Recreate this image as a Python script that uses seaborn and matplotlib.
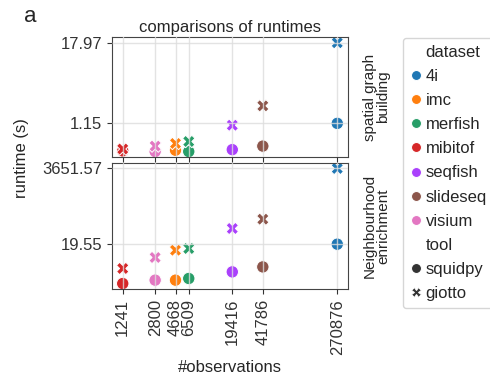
import numpy as np
import pandas as pd
import matplotlib
matplotlib.use("Agg")
import matplotlib.pyplot as plt
import seaborn as sns

# datasets and their number of observations
datasets = ["4i", "imc", "merfish", "mibitof", "seqfish", "slideseq", "visium"]
n_obs = [270876, 4668, 6509, 1241, 19416, 41786, 2800]
palette = ["#1f77b4", "#ff7f0e", "#279e68", "#d62728", "#aa40fc", "#8c564b", "#e377c2"]

# runtimes (s)
graph_squidpy = [1.15, 0.46, 0.44, 0.45, 0.47, 0.53, 0.44]
graph_giotto = [17.97, 0.58, 0.62, 0.48, 1.08, 2.09, 0.53]
enrich_squidpy = [19.55, 1.63, 1.83, 1.29, 2.89, 4.07, 1.63]
enrich_giotto = [3651.57, 12.9, 14.5, 3.65, 57.8, 110.0, 7.8]

tools = ["squidpy", "giotto"]
panels = ["spatial graph\nbuilding", "Neighbourhood\nenrichment"]


def make_df(squidpy_vals, giotto_vals):
    rows = []
    for tool, vals in zip(tools, [squidpy_vals, giotto_vals]):
        for d, n, v in zip(datasets, n_obs, vals):
            rows.append({"dataset": d, "#observations": n, "runtime": v, "tool": tool})
    return pd.DataFrame(rows)


dfs = [make_df(graph_squidpy, graph_giotto), make_df(enrich_squidpy, enrich_giotto)]

sns.set_style("whitegrid")
plt.rcParams["font.family"] = ["Liberation Sans", "DejaVu Sans"]
plt.rcParams["font.size"] = 12
plt.rcParams["xtick.bottom"] = True
plt.rcParams["ytick.left"] = True
plt.rcParams["axes.edgecolor"] = "#444444"
plt.rcParams["xtick.color"] = "#333333"
plt.rcParams["ytick.color"] = "#333333"

fig = plt.figure(figsize=(4.9, 3.84), dpi=100)
W, H = 490, 384
ax_top = fig.add_axes([112 / W, 1 - 157 / H, 236 / W, 119.7 / H])
ax_bot = fig.add_axes([112 / W, 1 - 289.3 / H, 236 / W, 126.6 / H], sharex=ax_top)

for i, (ax, df) in enumerate(zip([ax_top, ax_bot], dfs)):
    sns.scatterplot(data=df, x="#observations", y="runtime", hue="dataset",
                    hue_order=datasets, palette=palette, style="tool",
                    style_order=tools, s=80, ax=ax, legend=(i == 0))
    ax.set_xscale("log")
    ax.set_yscale("log")
    ax.set_axisbelow(False)
    ax.grid(True, color="#dddddd", linewidth=1, alpha=0.8)
    ax.minorticks_off()
    ymax = max(df.loc[df["tool"] == "giotto", "runtime"])
    ymid = max(df.loc[df["tool"] == "squidpy", "runtime"])
    ax.set_yticks([ymid, ymax])
    ax.set_yticklabels([f"{ymid:.2f}", f"{ymax:.2f}"])
    ax.set_ylabel("")
    ax.set_xlabel("")
    ax.text(1.12, 0.5, panels[i], transform=ax.transAxes, rotation=90,
            ha="center", va="center", fontsize=11, linespacing=0.95)

ax_bot.set_xticks(sorted(n_obs))
ax_bot.set_xticklabels([str(n) for n in sorted(n_obs)], rotation=90)
ax_bot.minorticks_off()
plt.setp(ax_top.get_xticklabels(), visible=False)
ax_bot.set_xlabel("#observations", fontsize=12)
ax_top.set_title("comparisons of runtimes", fontsize=12, pad=4)

handles, labels = ax_top.get_legend_handles_labels()
ax_top.get_legend().remove()
fig.legend(handles, labels, loc="upper left", bbox_to_anchor=(403 / W, 1 - 38 / H),
           borderaxespad=0, fontsize=12, frameon=True, edgecolor="#cccccc",
           labelspacing=0.55, handletextpad=0.15, handlelength=0.8, borderpad=0.4,
           markerscale=0.8)

fig.text(22 / W, 1 - 158 / H, "runtime (s)", rotation=90, ha="center", va="center", fontsize=12)
fig.text(30 / W, 1 - 17 / H, "a", ha="center", va="center", fontsize=16)

fig.savefig("out.png", dpi=100)
